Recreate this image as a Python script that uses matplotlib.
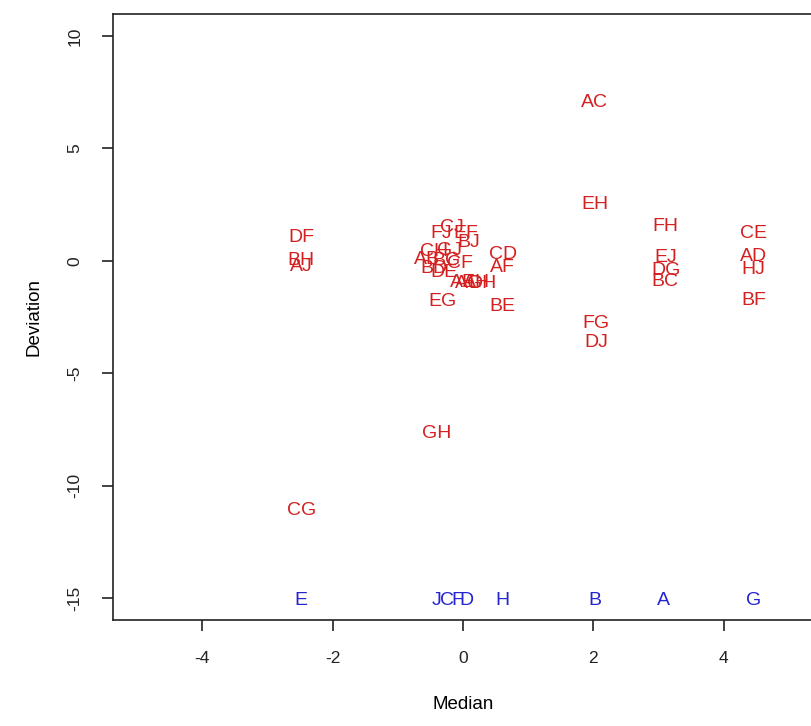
import matplotlib
matplotlib.use("Agg")
import matplotlib.pyplot as plt

plt.rcParams['font.family'] = ['Liberation Sans', 'DejaVu Sans']
plt.rcParams['axes.unicode_minus'] = False

# pair labels (red)
pairs = ["AC", "EH", "FG", "DJ", "FH", "EJ", "DG", "BC", "CE", "AD", "HJ", "BF",
         "DF", "BH", "AJ", "CG", "GH", "EG", "BE", "CD", "AF", "FJ", "CJ", "EF",
         "BJ", "CH", "GJ", "AB", "BG", "CF", "BD", "DE", "AE", "AG", "AH", "DH"]
pair_median = [2.02, 2.02, 2.04, 2.04, 3.11, 3.11, 3.11, 3.10, 4.46, 4.46, 4.46, 4.46,
               -2.48, -2.48, -2.48, -2.48, -0.41, -0.31, 0.61, 0.61, 0.60, -0.34, -0.17, 0.05,
               0.09, -0.45, -0.20, -0.55, -0.25, -0.05, -0.45, -0.30, 0.00, 0.10, 0.20, 0.30]
pair_dev = [7.04, 2.49, -2.8, -3.65, 1.51, 0.13, -0.45, -0.94, 1.2, 0.18, -0.4, -1.78,
            1.02, 0.0, -0.27, -11.1, -7.7, -1.83, -2.05, 0.27, -0.31, 1.2, 1.47, 1.2,
            0.8, 0.4, 0.45, 0.05, 0.0, -0.1, -0.35, -0.5, -0.95, -1.0, -0.95, -1.0]

# single labels (blue)
singles = ["E", "J", "C", "F", "D", "H", "B", "A", "G"]
single_median = [-2.48, -0.41, -0.25, -0.08, 0.06, 0.61, 2.02, 3.08, 4.46]
single_dev = -15.1

fig = plt.figure(figsize=(8.11, 7.26), dpi=100)
ax = fig.add_axes([0.1393, 0.146, 0.8632, 0.8347])

for lab, x, y in zip(pairs, pair_median, pair_dev):
    ax.text(x, y, lab, color='#d42020', fontsize=14, ha='center', va='center')
for lab in singles:
    i = singles.index(lab)
    ax.text(single_median[i], single_dev, lab, color='#2424d0', fontsize=14,
            ha='center', va='center')

ax.set_xlim(-5.37, 5.37)
ax.set_ylim(-15.98, 10.98)
ax.set_xticks([-4, -2, 0, 2, 4])
ax.set_yticks([-15, -10, -5, 0, 5, 10])
ax.tick_params(axis='both', direction='out', length=8, width=1.2, labelsize=12.5,
               colors='#222222', pad=14)
for lbl in ax.get_yticklabels():
    lbl.set_rotation(90)
    lbl.set_va('center')
for sp in ax.spines.values():
    sp.set_color('#222222')
    sp.set_linewidth(1.2)
ax.set_xlabel('Median', fontsize=13.5, labelpad=22)
ax.set_ylabel('Deviation', fontsize=13.5, labelpad=18)

fig.savefig('out.png', dpi=100)
